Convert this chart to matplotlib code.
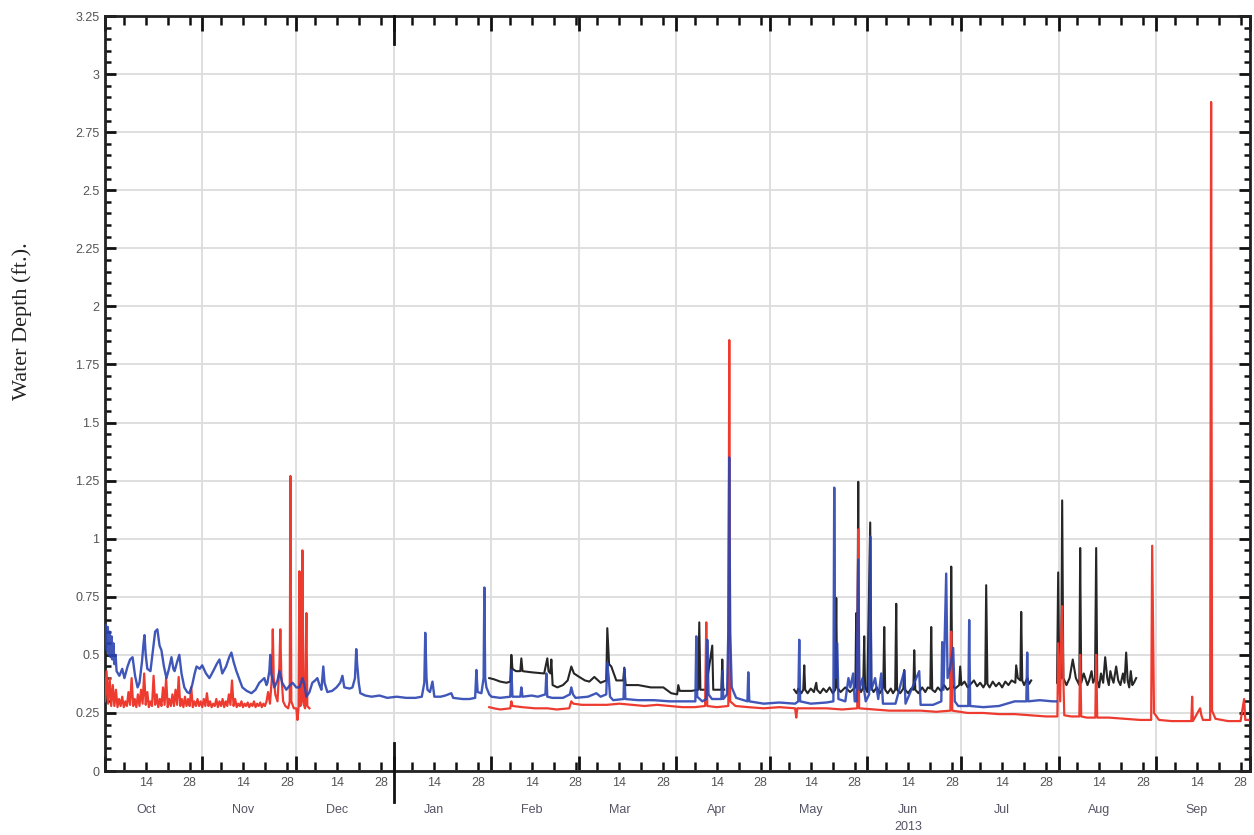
import numpy as np
import matplotlib
matplotlib.use('Agg')
from matplotlib import pyplot as plt
import matplotlib.dates as mdates
import matplotlib.ticker as mticker
from datetime import datetime

# water depth (ft) against days since 1 Oct 2012, three gauges
# nan breaks a record where the logger was out
black = [
    (122.5, 0.40), (124.0, 0.395), (126.0, 0.385), (128.0, 0.38), (129.2, 0.385),
    (129.54, 0.50), (129.9, 0.44), (131.0, 0.43), (132.4, 0.43), (132.73, 0.485),
    (133.1, 0.43), (136.0, 0.425), (140.0, 0.42), (141.01, 0.485), (141.4, 0.43),
    (142.0, 0.42), (142.29, 0.48), (142.7, 0.37), (144.2, 0.36), (146.0, 0.37),
    (147.5, 0.39), (148.66, 0.45), (149.5, 0.42), (151.2, 0.405), (153.0, 0.39),
    (154.4, 0.385), (156.0, 0.405), (158.0, 0.38), (159.8, 0.39), (160.13, 0.615),
    (160.7, 0.46), (161.4, 0.45), (163.0, 0.39), (165.2, 0.39), (165.55, 0.445),
    (166.0, 0.37), (170.0, 0.37), (174.0, 0.36), (178.0, 0.36), (180.5, 0.335),
    (182.4, 0.33), (182.76, 0.37), (183.2, 0.345), (187.0, 0.345), (189.1, 0.35),
    (189.45, 0.64), (189.8, 0.35), (191.5, 0.35), (193.59, 0.54), (193.9, 0.35),
    (196.5, 0.35), (196.78, 0.48), (197.1, 0.35), (197.4, 0.35), (197.5, np.nan),
    (219.7, 0.35), (220.5, 0.335), (221.0, 0.355), (222.0, 0.335), (222.6, 0.35),
    (222.91, 0.455), (223.2, 0.35), (224.0, 0.335), (225.0, 0.355), (226.0, 0.34),
    (226.74, 0.38), (227.0, 0.35), (228.0, 0.335), (229.0, 0.355), (230.0, 0.34),
    (231.0, 0.36), (232.0, 0.335), (232.8, 0.35), (233.11, 0.745), (233.4, 0.36),
    (234.5, 0.34), (236.0, 0.36), (237.5, 0.34), (239.2, 0.36), (239.48, 0.68),
    (239.8, 0.36), (240.12, 1.245), (240.4, 0.36), (241.0, 0.34), (241.7, 0.36),
    (242.03, 0.58), (242.3, 0.36), (243.0, 0.34), (243.94, 1.07), (244.3, 0.36),
    (245.0, 0.34), (246.0, 0.36), (247.0, 0.335), (248.1, 0.36), (248.41, 0.62),
    (248.7, 0.35), (249.5, 0.335), (250.5, 0.355), (251.2, 0.335), (251.9, 0.35),
    (252.23, 0.72), (252.5, 0.35), (253.5, 0.335), (254.5, 0.355), (254.78, 0.435),
    (255.1, 0.35), (256.0, 0.335), (257.0, 0.355), (257.7, 0.35), (257.97, 0.52),
    (258.3, 0.35), (259.3, 0.335), (260.5, 0.36), (261.5, 0.34), (262.3, 0.36),
    (263.1, 0.355), (263.38, 0.62), (263.7, 0.35), (264.6, 0.34), (265.5, 0.36),
    (266.5, 0.345), (267.5, 0.37), (268.5, 0.35), (269.5, 0.36), (269.76, 0.88),
    (270.1, 0.37), (271.0, 0.355), (272.3, 0.37), (272.62, 0.45), (273.0, 0.37),
    (274.0, 0.385), (275.0, 0.36), (276.0, 0.375), (277.0, 0.39), (278.0, 0.365),
    (279.0, 0.38), (280.0, 0.36), (280.6, 0.375), (280.91, 0.80), (281.3, 0.375),
    (282.0, 0.36), (283.0, 0.385), (284.0, 0.365), (285.0, 0.38), (286.0, 0.36),
    (287.0, 0.385), (288.0, 0.37), (289.0, 0.39), (290.2, 0.38), (290.47, 0.455),
    (291.0, 0.40), (291.8, 0.39), (292.07, 0.685), (292.4, 0.39), (293.0, 0.37),
    (294.0, 0.40), (294.6, 0.375), (295.25, 0.39), (295.5, np.nan),
    (303.5, 0.38), (303.86, 0.855), (304.2, 0.39), (304.8, 0.40), (305.13, 1.165),
    (305.5, 0.40), (306.5, 0.37), (307.5, 0.40), (308.5, 0.48), (309.5, 0.40),
    (310.6, 0.37), (310.87, 0.96), (311.2, 0.38), (312.0, 0.42), (312.5, 0.40),
    (313.2, 0.37), (313.74, 0.39), (314.5, 0.43), (315.0, 0.38), (315.6, 0.40),
    (315.97, 0.96), (316.3, 0.39), (316.9, 0.36), (317.5, 0.42), (318.2, 0.38),
    (318.84, 0.49), (319.5, 0.40), (320.0, 0.37), (320.5, 0.43), (321.0, 0.40),
    (321.5, 0.38), (322.34, 0.45), (323.0, 0.39), (323.7, 0.37), (324.5, 0.42),
    (325.0, 0.38), (325.53, 0.51), (326.0, 0.39), (326.5, 0.36), (327.0, 0.43),
    (327.5, 0.37), (328.0, 0.38), (328.72, 0.40),
]

# red gauge, 1 Oct - 21 Nov read every half day (low at whole days, peak in between)
red_autumn = [
    0.30, 0.43, 0.29, 0.40, 0.28, 0.37, 0.28, 0.35, 0.275, 0.31,
    0.28, 0.32, 0.275, 0.30, 0.28, 0.34, 0.285, 0.40, 0.28, 0.31,
    0.275, 0.33, 0.28, 0.35, 0.29, 0.42, 0.285, 0.34, 0.275, 0.30,
    0.28, 0.41, 0.285, 0.33, 0.275, 0.31, 0.28, 0.36, 0.285, 0.40,
    0.275, 0.31, 0.28, 0.33, 0.28, 0.35, 0.285, 0.405, 0.28, 0.31,
    0.275, 0.32, 0.28, 0.31, 0.28, 0.36, 0.275, 0.30, 0.28, 0.31,
    0.28, 0.30, 0.275, 0.31, 0.28, 0.335, 0.28, 0.30, 0.275, 0.29,
    0.28, 0.31, 0.275, 0.30, 0.28, 0.31, 0.275, 0.30, 0.28, 0.33,
    0.285, 0.39, 0.28, 0.31, 0.275, 0.29, 0.28, 0.30, 0.275, 0.29,
    0.28, 0.295, 0.275, 0.29, 0.28, 0.30, 0.275, 0.29, 0.28, 0.295,
    0.275, 0.29, 0.28, 0.30,
]

red = [
    (52.0, 0.34), (52.6, 0.29), (53.2, 0.40),
    (53.5, 0.61), (53.8, 0.40), (54.3, 0.33), (55.0, 0.30), (55.6, 0.45), (55.9, 0.61),
    (56.2, 0.42), (56.8, 0.30), (57.5, 0.28), (58.4, 0.27), (58.9, 0.30), (59.11, 1.27),
    (59.4, 0.30), (60.2, 0.27), (61.0, 0.27), (61.35, 0.22), (61.7, 0.27), (61.98, 0.86),
    (62.3, 0.28), (62.6, 0.30), (62.94, 0.95), (63.3, 0.29), (63.8, 0.27), (64.21, 0.68),
    (64.5, 0.28), (65.17, 0.27), (65.5, np.nan),
    (122.5, 0.275), (124.0, 0.27), (126.0, 0.265), (129.2, 0.27), (129.54, 0.30),
    (129.9, 0.28), (133.0, 0.275), (137.0, 0.27), (141.0, 0.27), (144.0, 0.265),
    (148.0, 0.27), (148.66, 0.30), (149.3, 0.29), (152.0, 0.285), (156.0, 0.285),
    (160.0, 0.285), (164.0, 0.29), (168.0, 0.285), (172.0, 0.28), (176.0, 0.285),
    (180.0, 0.28), (184.0, 0.275), (188.0, 0.275), (191.3, 0.28), (191.68, 0.64),
    (192.0, 0.28), (195.0, 0.275), (198.7, 0.28), (199.01, 1.855), (199.3, 0.30),
    (201.0, 0.28), (205.0, 0.275), (210.0, 0.27), (215.0, 0.275), (220.0, 0.27),
    (220.36, 0.23), (220.7, 0.27), (225.0, 0.27), (230.0, 0.27), (235.0, 0.265),
    (239.8, 0.27), (240.12, 1.04), (240.4, 0.27), (245.0, 0.265), (250.0, 0.26),
    (255.0, 0.26), (260.0, 0.26), (265.0, 0.255), (269.5, 0.26), (269.76, 0.60),
    (270.1, 0.26), (275.0, 0.25), (280.0, 0.25), (285.0, 0.245), (290.0, 0.245),
    (295.0, 0.24), (300.0, 0.235), (303.6, 0.235), (303.86, 0.55), (304.5, 0.30),
    (304.8, 0.55), (305.13, 0.71), (305.5, 0.40), (305.8, 0.24), (308.0, 0.235),
    (310.6, 0.235), (310.87, 0.50), (311.2, 0.235), (313.0, 0.23), (315.7, 0.23),
    (315.97, 0.50), (316.3, 0.23), (320.0, 0.23), (325.0, 0.225), (330.0, 0.22),
    (333.5, 0.22), (333.82, 0.97), (334.1, 0.60), (334.4, 0.25), (336.0, 0.22),
    (340.0, 0.215), (345.0, 0.215), (346.3, 0.215), (346.56, 0.32), (346.8, 0.215),
    (349.11, 0.27), (349.5, 0.24), (350.0, 0.22), (352.3, 0.22), (352.61, 2.88),
    (352.9, 0.26), (354.0, 0.225), (358.0, 0.215), (362.0, 0.215), (363.13, 0.31),
    (363.5, 0.22), (364.5, 0.22),
]

blue = [
    (0.0, 0.55), (0.3, 0.63), (0.6, 0.52), (0.9, 0.62), (1.2, 0.50), (1.5, 0.60),
    (1.8, 0.49), (2.1, 0.58), (2.4, 0.48), (2.7, 0.55), (3.0, 0.46), (3.4, 0.50),
    (3.7, 0.43), (4.6, 0.41), (5.5, 0.44), (6.2, 0.40), (7.2, 0.45), (8.0, 0.48),
    (8.8, 0.49), (9.6, 0.41), (10.4, 0.36), (11.0, 0.38), (11.8, 0.47), (12.3, 0.55),
    (12.6, 0.585), (13.0, 0.50), (13.5, 0.44), (14.5, 0.43), (15.3, 0.52), (16.0, 0.60),
    (16.7, 0.61), (17.4, 0.54), (18.0, 0.52), (18.8, 0.45), (19.6, 0.40), (20.4, 0.44),
    (21.2, 0.49), (21.8, 0.44), (22.2, 0.43), (23.0, 0.47), (23.7, 0.50), (24.4, 0.42),
    (25.3, 0.36), (26.2, 0.34), (26.9, 0.335), (27.8, 0.37), (28.6, 0.42), (29.2, 0.45),
    (30.2, 0.44), (31.0, 0.455), (32.2, 0.42), (33.3, 0.40), (34.5, 0.43), (35.6, 0.46),
    (36.5, 0.48), (37.4, 0.42), (38.6, 0.45), (39.6, 0.49), (40.3, 0.51), (41.0, 0.47),
    (41.9, 0.43), (43.0, 0.39), (43.8, 0.36), (45.2, 0.345), (46.7, 0.335), (48.0, 0.35),
    (49.2, 0.38), (50.8, 0.40), (51.5, 0.37), (51.8, 0.38), (52.4, 0.43), (52.7, 0.50),
    (53.0, 0.42), (54.0, 0.36), (55.0, 0.39), (55.6, 0.43), (56.5, 0.38), (57.8, 0.35),
    (59.0, 0.37), (59.8, 0.38), (61.0, 0.36), (62.0, 0.36), (63.0, 0.40), (63.6, 0.37),
    (64.2, 0.32), (65.2, 0.34), (66.1, 0.38), (67.0, 0.39), (67.7, 0.40), (68.4, 0.37),
    (69.0, 0.35), (69.6, 0.45), (70.0, 0.38), (70.9, 0.34), (72.4, 0.345), (73.8, 0.36),
    (75.0, 0.38), (75.7, 0.41), (76.3, 0.36), (78.0, 0.355), (78.9, 0.36), (79.7, 0.40),
    (80.1, 0.525), (80.4, 0.46), (80.9, 0.38), (81.4, 0.335), (83.0, 0.325), (85.0, 0.32),
    (87.5, 0.325), (90.0, 0.315), (93.0, 0.32), (96.0, 0.315), (99.0, 0.315), (101.0, 0.32),
    (101.8, 0.38), (102.1, 0.595), (102.5, 0.40), (102.8, 0.35), (103.6, 0.34),
    (104.4, 0.385), (105.0, 0.32), (107.0, 0.32), (108.5, 0.325), (110.4, 0.335),
    (111.0, 0.315), (114.0, 0.31), (116.2, 0.31), (118.0, 0.315), (118.4, 0.435),
    (118.8, 0.34), (120.0, 0.335), (120.7, 0.40), (120.94, 0.79), (121.2, 0.40),
    (121.6, 0.36), (122.5, 0.33), (123.2, 0.32), (126.0, 0.315), (129.2, 0.32),
    (129.54, 0.435), (129.9, 0.32), (132.4, 0.32), (132.73, 0.36), (133.1, 0.32),
    (136.0, 0.325), (138.0, 0.32), (140.4, 0.33), (140.7, 0.42), (141.0, 0.32),
    (142.6, 0.315), (146.0, 0.315), (148.2, 0.33), (148.66, 0.36), (149.2, 0.33),
    (150.0, 0.315), (154.0, 0.32), (156.63, 0.335), (158.0, 0.32), (159.8, 0.33),
    (160.13, 0.465), (160.6, 0.40), (161.0, 0.32), (162.0, 0.305), (165.3, 0.31),
    (165.55, 0.44), (165.9, 0.31), (170.0, 0.305), (175.0, 0.305), (180.0, 0.30),
    (185.0, 0.30), (188.2, 0.30), (188.5, 0.58), (188.8, 0.32), (190.4, 0.30),
    (191.7, 0.31), (192.0, 0.565), (192.4, 0.33), (193.5, 0.31), (196.5, 0.31),
    (196.8, 0.43), (197.1, 0.31), (198.3, 0.33), (198.7, 0.60), (199.0, 1.35),
    (199.3, 0.60), (199.8, 0.36), (201.2, 0.315), (204.8, 0.30), (205.07, 0.425),
    (205.4, 0.30), (210.0, 0.29), (214.95, 0.295), (220.0, 0.29), (221.0, 0.30),
    (221.32, 0.565), (221.6, 0.30), (225.0, 0.29), (230.0, 0.295), (232.2, 0.30),
    (232.47, 1.22), (232.8, 0.40), (233.43, 0.55), (233.8, 0.31), (236.0, 0.30),
    (237.0, 0.40), (237.6, 0.36), (238.5, 0.42), (239.0, 0.30), (239.6, 0.30),
    (240.12, 0.91), (240.5, 0.35), (241.5, 0.40), (242.5, 0.30), (243.6, 0.33),
    (243.94, 1.01), (244.3, 0.35), (245.5, 0.40), (246.5, 0.31), (247.45, 0.42),
    (248.0, 0.29), (252.0, 0.29), (254.78, 0.43), (255.2, 0.29), (259.56, 0.43),
    (260.0, 0.285), (264.0, 0.285), (266.6, 0.30), (266.89, 0.555), (267.3, 0.35),
    (268.16, 0.85), (268.6, 0.40), (269.5, 0.45), (270.39, 0.53), (270.9, 0.30),
    (272.0, 0.28), (275.2, 0.28), (275.49, 0.65), (275.8, 0.28), (280.0, 0.275),
    (285.0, 0.28), (290.0, 0.30), (293.7, 0.30), (293.98, 0.51), (294.3, 0.30),
    (298.0, 0.305), (302.0, 0.30), (303.2, 0.30),
]

months = ['Oct', 'Nov', 'Dec', 'Jan', 'Feb', 'Mar', 'Apr', 'May', 'Jun', 'Jul', 'Aug', 'Sep']
month_years = [2012, 2012, 2012, 2013, 2013, 2013, 2013, 2013, 2013, 2013, 2013, 2013]
month_nums = [10, 11, 12, 1, 2, 3, 4, 5, 6, 7, 8, 9]

t0 = mdates.date2num(datetime(2012, 10, 1))
t1 = mdates.date2num(datetime(2013, 10, 1))


def series(pts):
    a = np.array(pts, dtype=float)
    return t0 + a[:, 0], a[:, 1]


fig = plt.figure(figsize=(12.54, 8.35), dpi=100)
ax = fig.add_axes([0.0837, 0.0766, 0.9131, 0.9042])

bx, by = series(black)
rx, ry = series(red)
# half-day readings in front of the rest of the red record
rx = np.concatenate([t0 + 0.5 * np.arange(len(red_autumn)), rx])
ry = np.concatenate([red_autumn, ry])
ux, uy = series(blue)

ax.plot(bx, by, color='#262626', lw=1.5, zorder=3)
ax.plot(rx, ry, color='#ee3b30', lw=1.6, zorder=4)
ax.plot(ux, uy, color='#2b45b2', lw=1.7, alpha=0.9, zorder=5)

ax.set_xlim(t0, t1)
ax.set_ylim(0, 3.25)

# y axis: labels every 0.25, small ticks every 0.05
ax.yaxis.set_major_locator(mticker.MultipleLocator(0.25))
ax.yaxis.set_minor_locator(mticker.MultipleLocator(0.05))
ax.yaxis.set_major_formatter(mticker.FuncFormatter(lambda v, p: '%g' % v))

# x axis: month starts as major ticks, weekly minor ticks with 14 / 28 labels
ax.xaxis.set_major_locator(mdates.MonthLocator())
ax.xaxis.set_major_formatter(mticker.NullFormatter())
ax.xaxis.set_minor_locator(mdates.DayLocator(bymonthday=[7, 14, 21, 28]))


def day_label(v, p):
    d = mdates.num2date(v).day
    return str(d) if d in (14, 28) else ''


ax.xaxis.set_minor_formatter(mticker.FuncFormatter(day_label))

ax.tick_params(axis='both', which='both', direction='in', top=True, right=True,
               color='#111111', labelcolor='#555555', labelsize=9,
               labelfontfamily='Liberation Sans')
ax.tick_params(axis='x', which='major', length=11, width=2)
ax.tick_params(axis='x', which='minor', length=6.5, width=1.8, pad=4)
ax.tick_params(axis='y', which='major', length=8, width=2, pad=4)
ax.tick_params(axis='y', which='minor', length=4.5, width=1.8)

for s in ax.spines.values():
    s.set_linewidth(2)
    s.set_color('#222222')

ax.grid(True, which='major', color='#dcdcdc', lw=1.3)
ax.set_axisbelow(True)

# month names under the 14th, year under June
trans = ax.get_xaxis_transform()
for m, y, n in zip(months, month_years, month_nums):
    xm = mdates.date2num(datetime(y, n, 14))
    ax.text(xm, -0.051, m, transform=trans, ha='center', va='center',
            fontsize=9, color='#555566', family='Liberation Sans')
    if m == 'Jun':
        ax.text(xm, -0.074, str(y), transform=trans, ha='center', va='center',
                fontsize=9, color='#555566', family='Liberation Sans')

# longer tick marking the turn of the year
jan1 = mdates.date2num(datetime(2013, 1, 1))
ax.plot([jan1, jan1], [-0.041, 0.037], transform=trans, color='#111111', lw=2,
        clip_on=False, zorder=6)
ax.plot([jan1, jan1], [0.963, 1.0], transform=trans, color='#111111', lw=2,
        clip_on=False, zorder=6)

ax.set_ylabel('Water Depth (ft.).', family='Liberation Serif', fontsize=16,
              color='#222222')
ax.yaxis.set_label_coords(-0.064, 0.596)

plt.savefig('out.png', dpi=100)
